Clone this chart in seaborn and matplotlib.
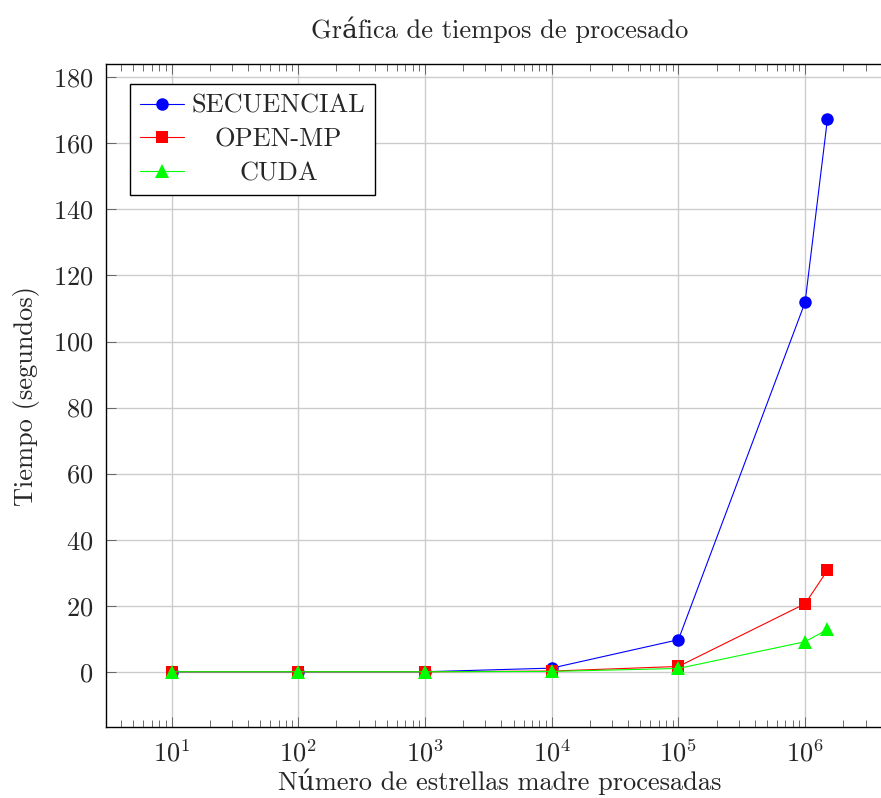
import matplotlib
matplotlib.use("Agg")
import matplotlib.pyplot as plt
import matplotlib.ticker as mticker
import numpy as np
import pandas as pd
import seaborn as sns

# Processed mother stars and run times (seconds)
estrellas = [10, 100, 1000, 10000, 100000, 1000000, 1500000]
secuencial = [0.0, 0.0, 0.0, 1.1, 9.7, 111.9, 167.3]
openmp = [0.0, 0.0, 0.0, 0.2, 1.6, 20.6, 30.7]
cuda = [0.0, 0.0, 0.0, 0.1, 1.0, 9.1, 12.8]

series = ["SECUENCIAL", "OPEN-MP", "CUDA"]
colores = ["#0000ff", "#ff0000", "#00ff00"]
marcadores = ["o", "s", "^"]

titulo = "Gráfica de tiempos de procesado"
etiqueta_x = "Número de estrellas madre procesadas"
etiqueta_y = "Tiempo (segundos)"
xticks = [1e1, 1e2, 1e3, 1e4, 1e5, 1e6]
yticks = [0, 20, 40, 60, 80, 100, 120, 140, 160, 180]

df = pd.DataFrame({
    "estrellas": estrellas * 3,
    "tiempo": secuencial + openmp + cuda,
    "serie": sum([[s] * len(estrellas) for s in series], []),
})

sns.set_theme(style="white")
FS = 19
plt.rcParams.update({
    "font.family": ["cmr10", "DejaVu Serif"],
    "mathtext.fontset": "cm",
    "axes.formatter.use_mathtext": True,
    "font.size": FS,
})

W, H = 881, 798
fig = plt.figure(figsize=(W / 100, H / 100), dpi=100)
left, right, top, bottom = 106, 893, 64, 727
ax = fig.add_axes([left / W, (H - bottom) / H, (right - left) / W, (bottom - top) / H])

for s, c, m in zip(series, colores, marcadores):
    sub = df[df["serie"] == s]
    sns.lineplot(data=sub, x="estrellas", y="tiempo", color=c, marker=m,
                 markersize=9 if m != "^" else 9.5, markeredgewidth=0,
                 linewidth=0.8, label=s, ax=ax, legend=False)

ax.set_xscale("log")
xmin, xmax = np.log10(min(estrellas)), np.log10(max(estrellas))
pad = 0.1 * (xmax - xmin)
ax.set_xlim(10 ** (xmin - pad), 10 ** (xmax + pad))
ymax = max(secuencial)
ax.set_ylim(-0.1 * ymax, 1.1 * ymax)
ax.set_yticks(yticks)
ax.xaxis.set_major_locator(mticker.FixedLocator(xticks))
ax.xaxis.set_minor_locator(mticker.LogLocator(base=10, subs=np.arange(2, 10), numticks=12))
ax.xaxis.set_minor_formatter(mticker.NullFormatter())
ax.xaxis.set_major_formatter(mticker.LogFormatterMathtext())

ax.grid(True, which="major", color="#cccccc", linewidth=1.0)
ax.set_axisbelow(True)
for sp in ax.spines.values():
    sp.set_color("black")
    sp.set_linewidth(1.0)
ax.tick_params(which="both", direction="in", top=True, right=True, bottom=True, left=True,
               color="#555555", width=0.6)
ax.tick_params(which="major", length=7, labelsize=FS, pad=9)
ax.tick_params(which="minor", length=5)

ax.set_xlabel(etiqueta_x, fontsize=FS, labelpad=1.5)
ax.set_ylabel(etiqueta_y, fontsize=FS, labelpad=9)
ax.set_title(titulo, fontsize=FS, pad=19)

leg = ax.legend(loc="upper left", bbox_to_anchor=(24 / (right - left), 1 - 20 / (bottom - top)),
                borderaxespad=0, frameon=True, fancybox=False, framealpha=1,
                edgecolor="black", fontsize=FS, handlelength=1.65, handletextpad=0.3,
                labelspacing=0.38, borderpad=0.38)
leg.get_frame().set_linewidth(1.0)

# centre the legend entries within the text column
fig.canvas.draw()
renderer = fig.canvas.get_renderer()
textos = leg.get_texts()
anchos = [t.get_window_extent(renderer).width for t in textos]
wmax = max(anchos)
for t, w in zip(textos, anchos):
    t.set_x((wmax - w) / 2)

fig.savefig("out.png", dpi=100)
